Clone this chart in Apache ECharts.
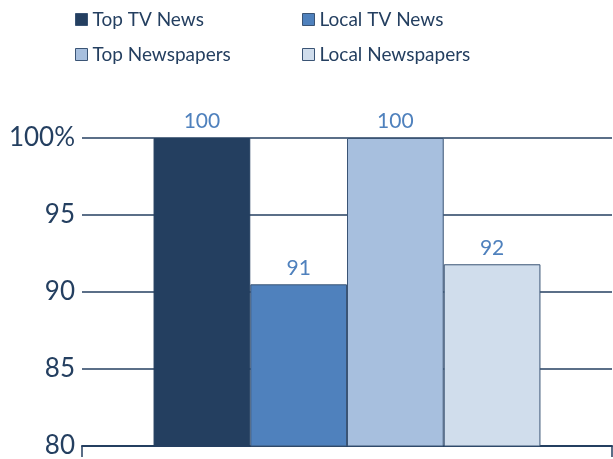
<!DOCTYPE html>
<html>
<head>
<meta charset="utf-8">
<script src="https://cdn.jsdelivr.net/npm/echarts@6/dist/echarts.min.js"></script>
<style>
  html, body { margin: 0; padding: 0; background: #fff; }
  #chart { width: 613px; height: 459px; }
</style>
</head>
<body>
<div id="chart"></div>
<script>
// Share of stories, by outlet type
const categories = ['Share'];
const seriesNames = ['Top TV News', 'Local TV News', 'Top Newspapers', 'Local Newspapers'];
const seriesValues = [100, 90.5, 100, 91.8];
const seriesColors = ['#243F60', '#4F81BD', '#A7BFDE', '#D0DDEC'];
const yTicks = [80, 85, 90, 95, 100];

const FONT = 'Lato, "Open Sans", sans-serif';
const NAVY = '#243F60';

const legendPos = [
  { left: 75, top: 10 },
  { left: 302, top: 10 },
  { left: 75, top: 45 },
  { left: 302, top: 45 }
];

const chart = echarts.init(document.getElementById('chart'), null, { renderer: 'canvas' });

chart.setOption({
  animation: false,
  backgroundColor: '#ffffff',
  legend: seriesNames.map((name, i) => ({
    data: [name],
    left: legendPos[i].left,
    top: legendPos[i].top,
    padding: 0,
    icon: 'rect',
    itemWidth: 12,
    itemHeight: 12,
    itemGap: 0,
    selectedMode: false,
    itemStyle: { borderColor: '#3A5475', borderWidth: 1 },
    textStyle: { fontFamily: FONT, fontSize: 19, color: NAVY }
  })),
  grid: { left: 82, right: 1, top: 138, bottom: 11, containLabel: false },
  xAxis: {
    type: 'category',
    data: categories,
    boundaryGap: true,
    axisLine: { show: true, lineStyle: { color: NAVY, width: 2 } },
    axisTick: { show: true, length: 11, lineStyle: { color: NAVY, width: 1.5 } },
    axisLabel: { show: false }
  },
  yAxis: {
    type: 'value',
    min: yTicks[0],
    max: yTicks[yTicks.length - 1],
    interval: yTicks[1] - yTicks[0],
    axisLine: { show: false },
    axisTick: { show: false },
    splitLine: { show: true, lineStyle: { color: NAVY, width: 1.5 } },
    axisLabel: {
      margin: 7,
      fontFamily: FONT,
      fontSize: 26,
      color: NAVY,
      formatter: v => (v === 100 ? '100%' : String(v))
    }
  },
  series: seriesNames.map((name, i) => ({
    name: name,
    type: 'bar',
    data: [seriesValues[i]],
    barGap: '0%',
    barCategoryGap: '27%',
    itemStyle: {
      color: seriesColors[i],
      borderColor: i === 0 ? seriesColors[0] : '#3A5475',
      borderWidth: 1
    },
    label: {
      show: true,
      position: 'top',
      distance: 6,
      fontFamily: FONT,
      fontSize: 21,
      color: '#4F81BD',
      formatter: p => String(Math.round(p.value))
    }
  }))
});
</script>
</body>
</html>
